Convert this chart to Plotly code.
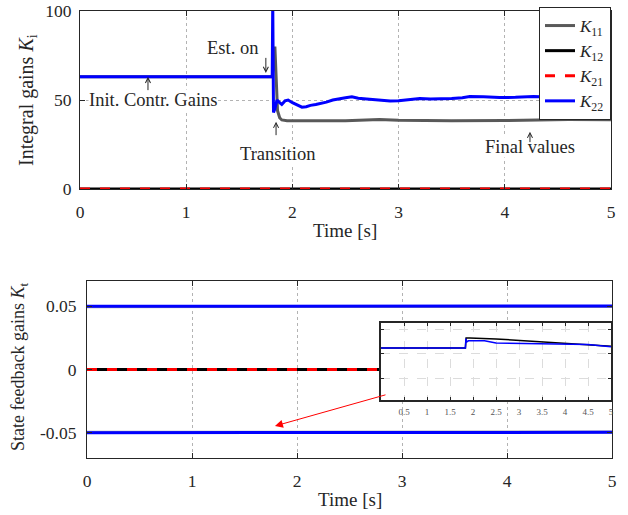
import plotly.graph_objects as go

# ---------------- data: integral gains K_i (top) ----------------
t_K11 = [0, 1.81, 1.835, 1.86, 1.88, 1.90, 1.95, 2.1, 2.3, 2.5, 2.82, 3.0, 3.5, 4.0, 4.3, 4.6, 5.0]
K11 = [63, 63, 80, 44, 40, 38.8, 38.3, 38.2, 38.3, 38.4, 39.0, 38.6, 38.3, 38.5, 38.8, 39.0, 38.9]

t_K22 = [0, 1.810, 1.815, 1.822, 1.835, 1.855, 1.88, 1.90, 1.93, 1.96, 2.0, 2.04, 2.09, 2.13,
         2.17, 2.22, 2.26, 2.32, 2.38, 2.45, 2.50, 2.56, 2.62, 2.70, 2.80, 2.92, 3.0, 3.11,
         3.2, 3.3, 3.39, 3.5, 3.6, 3.67, 3.8, 3.95, 4.1, 4.27, 4.4, 4.55, 4.7, 4.85, 5.0]
K22 = [63, 63, 105, 43, 45, 50, 48.5, 47.5, 49.5, 50, 48.5, 47.5, 46, 46.2,
       47, 47.5, 48, 48.8, 50, 51, 51.3, 51.8, 51, 50.6, 50.2, 49.4, 49.6, 50.4,
       50.8, 50.5, 50.6, 50.8, 51.3, 51.9, 51.8, 51.4, 51.5, 51.9, 51.7, 51.5, 51.8, 52, 51.8]

t_zero = [0, 5]
K12 = [0, 0]
K21 = [0, 0]

# ---------------- data: state feedback gains K_t (bottom) ----------------
t_Kt = [0, 1.81, 1.83, 5]
Kt_up_gray = [0.0497, 0.0497, 0.0499, 0.0499]
Kt_up_blue = [0.0500, 0.0500, 0.0503, 0.0503]
Kt_lo_gray = [-0.0497, -0.0497, -0.0494, -0.0494]
Kt_lo_blue = [-0.0500, -0.0500, -0.0497, -0.0497]
Kt12 = [0, 0]
Kt21 = [0, 0]

# ---------------- data: inset (zoom of K_t) ----------------
t_ins_black = [0, 1.835, 1.85, 1.93, 2.5, 3.5, 5.0]
ins_black = [-0.04975, -0.04975, -0.049667, -0.049667, -0.049675, -0.04970, -0.049736]
t_ins_blue = [0, 1.835, 1.845, 1.86, 1.90, 2.25, 2.5, 3.5, 4.5, 5.0]
ins_blue = [-0.04975, -0.04975, -0.049672, -0.04970, -0.04969, -0.04969, -0.049708,
            -0.049714, -0.049722, -0.04974]
ins_xticks = [0.5, 1, 1.5, 2, 2.5, 3, 3.5, 4, 4.5, 5]
ins_xlabels = ["0.5", "1", "1.5", "2", "2.5", "3", "3.5", "4", "4.5", "5"]
ins_yticks = [-0.0500, -0.0498, -0.0496]

top_xticks = [0, 1, 2, 3, 4, 5]
top_yticks = [0, 50, 100]
bot_yticks = [-0.05, 0, 0.05]
bot_ylabels = ["-0.05", "0", "0.05"]

FONT = "Liberation Serif, Times New Roman, serif"
TXT = "#262626"
GRAY = "#595959"
BLUE = "#0000ff"
RED = "#ff0000"

fig = go.Figure()

# top traces
fig.add_trace(go.Scatter(x=t_K11, y=K11, mode="lines", name="<i>K</i><sub>11</sub>",
                         line=dict(color=GRAY, width=3), xaxis="x", yaxis="y"))
fig.add_trace(go.Scatter(x=t_zero, y=K12, mode="lines", name="<i>K</i><sub>12</sub>",
                         line=dict(color="black", width=3), xaxis="x", yaxis="y"))
fig.add_trace(go.Scatter(x=t_zero, y=K21, mode="lines", name="<i>K</i><sub>21</sub>",
                         line=dict(color=RED, width=3, dash="10px,10px"), xaxis="x", yaxis="y"))
fig.add_trace(go.Scatter(x=t_K22, y=K22, mode="lines", name="<i>K</i><sub>22</sub>",
                         line=dict(color=BLUE, width=3), xaxis="x", yaxis="y"))

# bottom traces
for yy, col in [(Kt_up_gray, "#a0a0a0"), (Kt_lo_gray, "#a0a0a0"),
                (Kt_up_blue, BLUE), (Kt_lo_blue, BLUE)]:
    fig.add_trace(go.Scatter(x=t_Kt, y=yy, mode="lines", showlegend=False,
                             line=dict(color=col, width=3), xaxis="x2", yaxis="y2"))
fig.add_trace(go.Scatter(x=t_zero, y=Kt12, mode="lines", showlegend=False,
                         line=dict(color="black", width=3), xaxis="x2", yaxis="y2"))
fig.add_trace(go.Scatter(x=t_zero, y=Kt21, mode="lines", showlegend=False,
                         line=dict(color=RED, width=3, dash="10px,10px"), xaxis="x2", yaxis="y2"))

# inset traces
fig.add_trace(go.Scatter(x=t_ins_black, y=ins_black, mode="lines", showlegend=False,
                         line=dict(color="black", width=1.5), xaxis="x3", yaxis="y3"))
fig.add_trace(go.Scatter(x=t_ins_blue, y=ins_blue, mode="lines", showlegend=False,
                         line=dict(color=BLUE, width=1.5), xaxis="x3", yaxis="y3"))

W, H = 628, 515
def px(x):
    return x / W
def py(y):
    return 1 - y / H

TICK = 17.5
axis_common = dict(showline=True, linecolor=TXT, linewidth=1, mirror="ticks",
                   ticks="inside", ticklen=5, tickcolor=TXT, zeroline=False,
                   showgrid=True, gridcolor="#b3b3b3", griddash="dot", gridwidth=1,
                   tickfont=dict(family=FONT, size=TICK, color=TXT), automargin=False)

fig.update_layout(
    width=W, height=H,
    margin=dict(l=0, r=0, t=0, b=0),
    paper_bgcolor="white", plot_bgcolor="white",
    font=dict(family=FONT, color=TXT, size=17),
    xaxis=dict(domain=[px(80), px(611)], range=[0, 5], tickvals=top_xticks,
               anchor="y", ticklabelstandoff=7, **axis_common),
    yaxis=dict(domain=[py(189), py(11)], range=[0, 100], tickvals=top_yticks,
               anchor="x", ticklabelstandoff=4, **axis_common),
    xaxis2=dict(domain=[px(87), px(612)], range=[0, 5], tickvals=top_xticks,
                anchor="y2", ticklabelstandoff=7, **axis_common),
    yaxis2=dict(domain=[py(458), py(281)], range=[-0.07, 0.07], tickvals=bot_yticks,
                ticktext=bot_ylabels, anchor="x2", ticklabelstandoff=6, **axis_common),
    xaxis3=dict(domain=[px(381), px(611)], range=[0, 5], tickvals=ins_xticks, ticktext=ins_xlabels,
                anchor="y3", showline=True, linecolor=TXT, linewidth=1.5, mirror="ticks",
                ticks="inside", ticklen=3, tickcolor=TXT, zeroline=False,
                showgrid=True, gridcolor="#dcdcdc", griddash="dash", gridwidth=1,
                tickfont=dict(family=FONT, size=9, color="#555555"), automargin=False,
                ticklabelstandoff=2),
    yaxis3=dict(domain=[py(400), py(323)], range=[-0.050183, -0.049542], tickvals=ins_yticks,
                showticklabels=False, anchor="x3", showline=True, linecolor=TXT, linewidth=1.5,
                mirror="ticks", ticks="inside", ticklen=3, tickcolor=TXT, zeroline=False,
                showgrid=True, gridcolor="#dcdcdc", griddash="dash", gridwidth=1,
                automargin=False),
    legend=dict(x=px(611), xanchor="right", y=py(7), yanchor="top",
                bgcolor="white", bordercolor=TXT, borderwidth=1,
                font=dict(family=FONT, size=17, color=TXT), itemwidth=30,
                tracegroupgap=0),
    showlegend=True,
)

ann = []
# axis titles
ann.append(dict(text="Integral gains <i>K</i><sub>i</sub>", xref="paper", yref="paper",
                x=px(27), y=py(100), xanchor="center", yanchor="middle", textangle=-90,
                showarrow=False, font=dict(family=FONT, size=20, color=TXT)))
ann.append(dict(text="State feedback gains <i>K</i><sub>t</sub>", xref="paper", yref="paper",
                x=px(19), y=py(367), xanchor="center", yanchor="middle", textangle=-90,
                showarrow=False, font=dict(family=FONT, size=18, color=TXT)))
ann.append(dict(text="Time [s]", xref="paper", yref="paper", x=px(345), y=py(230),
                xanchor="center", yanchor="middle",
                showarrow=False, font=dict(family=FONT, size=19, color=TXT)))
ann.append(dict(text="Time [s]", xref="paper", yref="paper", x=px(350), y=py(499),
                xanchor="center", yanchor="middle",
                showarrow=False, font=dict(family=FONT, size=19, color=TXT)))

# text labels on top plot
labels = [("Est. on", 1.44, 79.4), ("Init. Contr. Gains", 0.69, 50.0),
          ("Transition", 1.864, 19.7), ("Final values", 4.237, 23.8)]
for txt, xx, yy in labels:
    ann.append(dict(text=txt, x=xx, y=yy, xref="x", yref="y", showarrow=False,
                    xanchor="center", yanchor="middle", bgcolor="white", borderpad=0,
                    font=dict(family=FONT, size=18.5, color=TXT)))
# arrows (head, tail)
arrows = [((1.75, 65.2), (1.75, 74.5)), ((0.64, 63.0), (0.64, 54.7)),
          ((1.846, 37.8), (1.846, 29.4)), ((4.237, 32.2), (4.237, 25.5))]
for (hx, hy), (tx, ty) in arrows:
    ann.append(dict(text="", x=hx, y=hy, ax=tx, ay=ty, xref="x", yref="y",
                    axref="x", ayref="y", showarrow=True, arrowhead=5, arrowsize=1,
                    arrowwidth=1, arrowcolor=TXT, standoff=0, startstandoff=0))
# red arrow in bottom plot
ann.append(dict(text="", x=1.79, y=-0.0447, ax=2.857, ay=-0.0197, xref="x2", yref="y2",
                axref="x2", ayref="y2", showarrow=True, arrowhead=2, arrowsize=1.6,
                arrowwidth=1, arrowcolor=RED))
fig.update_layout(annotations=ann)

fig.write_html("out.html", config={"displayModeBar": False},
               post_script="document.body.style.margin='0px';")
